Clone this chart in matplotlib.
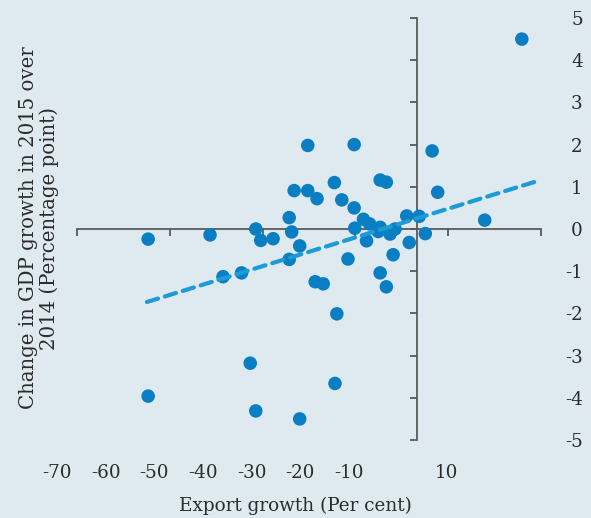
import matplotlib
matplotlib.use("Agg")
import matplotlib.pyplot as plt

# ---------------- data ----------------
export_growth = [-43.5, -43.5, -33.5, -31.4, -28.4, -27.0, -26.1, -26.1, -25.3, -23.3,
                 -20.7, -20.7, -20.3, -19.9, -19.0, -19.0, -17.7, -17.7, -16.5, -15.2,
                 -16.2, -13.4, -13.0, -13.3, -12.2, -11.2, -10.2, -10.2, -10.1, -8.7,
                 -8.2, -7.7, -6.0, -5.0, -6.0, -6.3, -4.4, -3.6, -6.0, -5.0,
                 -3.9, -1.7, -1.3, 0.3, 1.3, 2.4, 3.3, 10.9, 16.9]
gdp_change = [-0.24, -3.96, -0.14, -1.13, -1.04, -3.18, 0.00, -4.31, -0.27, -0.23,
              0.27, -0.72, -0.07, 0.91, -0.40, -4.50, 0.91, 1.98, -1.25, -1.30,
              0.72, 1.10, -2.01, -3.66, 0.69, -0.71, 2.00, 0.50, 0.02, 0.23,
              -0.28, 0.12, 1.16, 1.11, 0.04, -0.06, -0.12, 0.00, -1.04, -1.37,
              -0.61, 0.31, -0.32, 0.30, -0.11, 1.85, 0.87, 0.21, 4.50]
trend_x = [-43.7, 19.5]
trend_y = [-1.73, 1.14]

axis_x_ticks = [-55, -40, -25, -10, 5, 20]
y_ticks = [5, 4, 3, 2, 1, 0, -1, -2, -3, -4, -5]
x_label_ticks = [-70, -60, -50, -40, -30, -20, -10, 10]

# ---------------- style ----------------
BG = "#dfeaf0"
PT = "#0a7ec3"
TREND = "#1c9bd7"
AXC = "#5a5a5a"
TXT = "#2b2b2b"
FONT = "DejaVu Serif"
FS = 13.2

W, H = 591, 518
fig = plt.figure(figsize=(W / 100, H / 100), dpi=100, facecolor=BG)

ax = fig.add_axes([77 / W, 78 / H, 464 / W, 422 / H])
ax.set_facecolor("none")
ax.set_xlim(-55, 20)
ax.set_ylim(-5, 5)
for s in ("top", "right"):
    ax.spines[s].set_visible(False)
ax.spines["left"].set_position(("data", 0))
ax.spines["bottom"].set_position(("data", 0))
for s in ("left", "bottom"):
    ax.spines[s].set_color(AXC)
    ax.spines[s].set_linewidth(1.3)
ax.set_xticks(axis_x_ticks)
ax.set_xticklabels([])
ax.set_yticks(y_ticks)
ax.set_yticklabels([])
ax.tick_params(axis="both", direction="out", length=5, width=1.3, color=AXC)

ax.scatter(export_growth, gdp_change, s=95, color=PT, edgecolors="none", zorder=3)
ax.plot(trend_x, trend_y, color=TREND, lw=3.0, linestyle=(0, (2.8, 1.7)),
        dash_capstyle="round", zorder=4)

# right-hand y labels
ax2 = ax.twinx()
ax2.set_ylim(-5, 5)
ax2.set_yticks(y_ticks)
ax2.set_yticklabels([str(v) for v in y_ticks], fontfamily=FONT, fontsize=FS,
                    color=TXT, ha="right")
for s in ax2.spines.values():
    s.set_visible(False)
ax2.tick_params(axis="y", length=0, pad=30)

# bottom x labels (separate label axis)
axb = fig.add_axes([0, 78 / H, 1, 0.001])
axb.set_xlim((0 - 397.5) / 4.86, (W - 397.5) / 4.86)
axb.patch.set_visible(False)
for s in axb.spines.values():
    s.set_visible(False)
axb.set_yticks([])
axb.set_xticks(x_label_ticks)
axb.set_xticklabels([str(v) for v in x_label_ticks], fontfamily=FONT,
                    fontsize=FS, color=TXT)
axb.tick_params(axis="x", length=0, pad=17)
axb.set_xlabel("Export growth (Per cent)", fontfamily=FONT, fontsize=FS,
               color=TXT, labelpad=11)

fig.text(39 / W, (H - 228) / H,
         "Change in GDP growth in 2015 over\n2014 (Percentage point)",
         rotation=90, ha="center", va="center", multialignment="center",
         fontfamily=FONT, fontsize=14.2, color=TXT, linespacing=1.12)

fig.savefig("out.png", dpi=100, facecolor=BG)
